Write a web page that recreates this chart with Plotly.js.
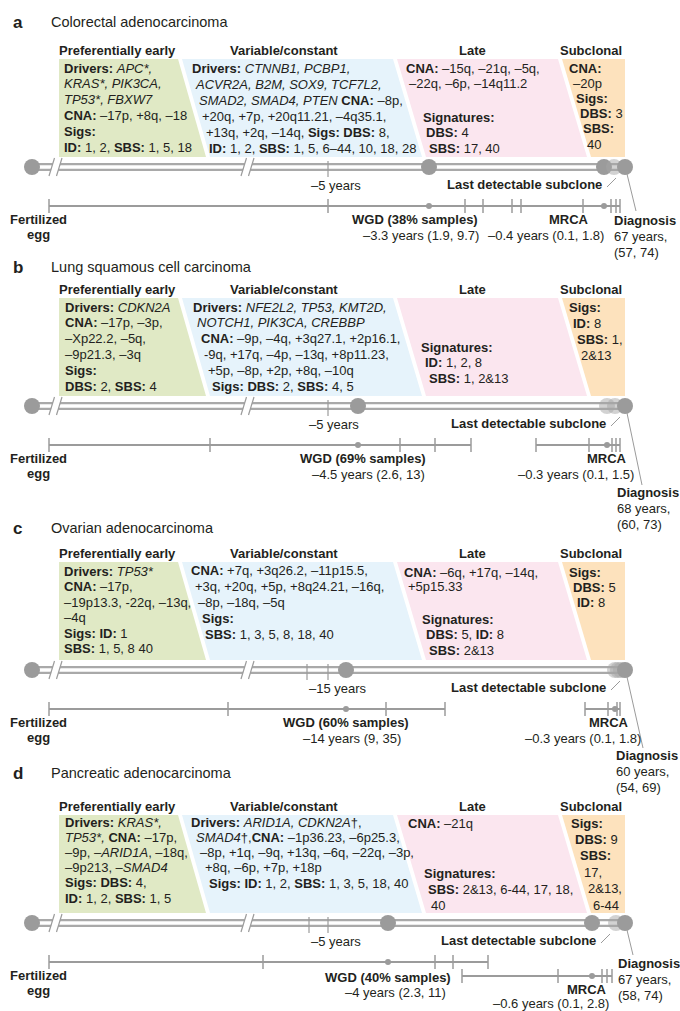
<!DOCTYPE html>
<html><head><meta charset="utf-8">
<script src="https://cdn.plot.ly/plotly-3.0.1.min.js"></script>
<style>html,body{margin:0;padding:0;background:#fff}#chart{width:680px;height:1011px}</style>
</head><body><div id="chart"></div>
<script>
// ---------------- DATA ----------------
const panelLetters = ['a', 'b', 'c', 'd'];
const cancerTypes = ['Colorectal adenocarcinoma', 'Lung squamous cell carcinoma', 'Ovarian adenocarcinoma', 'Pancreatic adenocarcinoma'];
const stageHeaders = ['Preferentially early', 'Variable/constant', 'Late', 'Subclonal'];

const earlyText = [
  ['<b>Drivers:</b> <i>APC*,</i>', '<i>KRAS*, PIK3CA,</i>', '<i>TP53*, FBXW7</i>', '<b>CNA:</b> –17p, +8q, –18', '<b>Sigs:</b>', '<b>ID:</b> 1, 2, <b>SBS:</b> 1, 5, 18'],
  ['<b>Drivers:</b> <i>CDKN2A</i>', '<b>CNA:</b> –17p, –3p,', '–Xp22.2, –5q,', '–9p21.3, –3q', '<b>Sigs:</b>', '<b>DBS:</b> 2, <b>SBS:</b> 4'],
  ['<b>Drivers:</b> <i>TP53*</i>', '<b>CNA:</b> –17p,', '–19p13.3, -22q, –13q,', '–4q', '<b>Sigs: ID:</b> 1', '<b>SBS:</b> 1, 5, 8 40'],
  ['<b>Drivers:</b> <i>KRAS*,</i>', '<i>TP53*,</i> <b>CNA:</b> –17p,', '–9p, –<i>ARID1A</i>, –18q,', '–9p213, –<i>SMAD4</i>', '<b>Sigs: DBS:</b> 4,', '<b>ID:</b> 1, 2, <b>SBS:</b> 1, 5']
];
const variableText = [
  ['<b>Drivers:</b> <i>CTNNB1, PCBP1,</i>', '<i>ACVR2A, B2M, SOX9, TCF7L2,</i>', '<i>SMAD2, SMAD4, PTEN</i> <b>CNA:</b> –8p,', '+20q, +7p, +20q11.21, –4q35.1,', '+13q, +2q, –14q, <b>Sigs: DBS:</b> 8,', '<b>ID:</b> 1, 2, <b>SBS:</b> 1, 5, 6–44, 10, 18, 28'],
  ['<b>Drivers:</b> <i>NFE2L2, TP53, KMT2D,</i>', '<i>NOTCH1, PIK3CA, CREBBP</i>', '<b>CNA:</b> –9p, –4q, +3q27.1, +2p16.1,', '-9q, +17q, –4p, –13q, +8p11.23,', '+5p, –8p, +2p, +8q, –10q', '<b>Sigs: DBS:</b> 2, <b>SBS:</b> 4, 5'],
  ['<b>CNA:</b> +7q, +3q26.2, –11p15.5,', '+3q, +20q, +5p, +8q24.21, –16q,', '–8p, –18q, –5q', '<b>Sigs:</b>', '<b>SBS:</b> 1, 3, 5, 8, 18, 40'],
  ['<b>Drivers:</b> <i>ARID1A, CDKN2A</i>†,', '<i>SMAD4</i>†,<b>CNA:</b> –1p36.23, –6p25.3,', '–8p, +1q, –9q, +13q, –6q, –22q, –3p,', '+8q, –6p, +7p, +18p', '<b>Sigs: ID:</b> 1, 2, <b>SBS:</b> 1, 3, 5, 18, 40']
];
const lateCnaText = [
  ['<b>CNA:</b> –15q, –21q, –5q,', '–22q, –6p, –14q11.2'],
  [],
  ['<b>CNA:</b> –6q, +17q, –14q,', '+5p15.33'],
  ['<b>CNA:</b> –21q']
];
const lateSigText = [
  ['<b>Signatures:</b>', '<b>DBS:</b> 4', '<b>SBS:</b> 17, 40'],
  ['<b>Signatures:</b>', '<b>ID:</b> 1, 2, 8', '<b>SBS:</b> 1, 2&amp;13'],
  ['<b>Signatures:</b>', '<b>DBS:</b> 5, <b>ID:</b> 8', '<b>SBS:</b> 2&amp;13'],
  ['<b>Signatures:</b>', '<b>SBS:</b> 2&amp;13, 6-44, 17, 18,', '40']
];
const subclonalText = [
  ['<b>CNA:</b>', '–20p', '<b>Sigs:</b>', '<b>DBS:</b> 3', '<b>SBS:</b>', '40'],
  ['<b>Sigs:</b>', '<b>ID:</b> 8', '<b>SBS:</b> 1,', '2&amp;13'],
  ['<b>Sigs:</b>', '<b>DBS:</b> 5', '<b>ID:</b> 8'],
  ['<b>Sigs:</b>', '<b>DBS:</b> 9', '<b>SBS:</b>', '17,', '2&amp;13,', '6-44']
];
const wgdPercent = [38, 69, 60, 40];
const wgdYears = [-3.3, -4.5, -14, -4];
const wgdLow = [1.9, 2.6, 9, 2.3];
const wgdHigh = [9.7, 13, 35, 11];
const mrcaYears = [-0.4, -0.3, -0.3, -0.6];
const mrcaLow = [0.1, 0.1, 0.1, 0.1];
const mrcaHigh = [1.8, 1.5, 1.8, 2.8];
const diagnosisAge = [67, 68, 60, 67];
const diagnosisLow = [57, 60, 54, 58];
const diagnosisHigh = [74, 73, 69, 74];
const refYears = [-5, -5, -15, -5];

// ------------- SCHEMATIC TIMELINE POSITIONS (layout) -------------
const wgdBarMarks = [[49, 328, 465, 483, 521], [49, 210, 400, 435, 471], [49, 228, 386, 445], [49, 263, 435, 453, 488]];
const wgdPos = [429, 358, 346, 388];
const mrcaBarMarks = [[512, 583, 611, 616, 620], [536, 589, 612, 616, 620], [585, 608, 617, 620], [462, 558, 602, 607, 612]];
const mrcaPos = [604, 607, 615, 592];
const mrcaDark = [true, false, false, true];
const subclonePos = [[614], [615], [618, 621], [616]];
const refTickPos = [[328], [328], [307, 328], [309, 328]];
const refLabelX = [336, 334, 338, 336];

// ------------- LAYOUT CONSTANTS -------------
const W = 680, H = 1011;
const FONT = 'Liberation Sans, Arial, Helvetica, sans-serif';
const INK = '#231f20';
const GRAY = '#9b9b9b';
const regionTop = [59, 298, 562, 815];
const titleY = [22, 267, 528, 773];
const FILLS = ['#e0e9c5', '#e6f3fb', '#fbe6ef', '#fde2bd'];
const startX = 32, diagX = 625;

const greenCfg = [{x:63,dx:0,y:68,lh:15.8},{x:64,dx:0,y:307,lh:15.8},{x:63,dx:0,y:571,lh:15.5},{x:64,dx:0,y:822,lh:15.2}];
const blueCfg = [{x:191,dx:3.4,y:68,lh:16},{x:192,dx:3.8,y:307,lh:15.8},{x:190,dx:3.5,y:570,lh:16},{x:190,dx:4.5,y:822,lh:15.3}];
const lateCnaCfg = [{x:405,dx:3,y:68,lh:15.5},{x:0,dx:0,y:0,lh:0},{x:403,dx:4,y:572,lh:14.5},{x:407,dx:0,y:823,lh:15}];
const lateSigCfg = [{x:422,dx:3,y:117,lh:15.5},{x:420,dx:4,y:347,lh:15.5},{x:421,dx:3.5,y:619,lh:15.5},{x:423,dx:3.5,y:873,lh:16}];
const subCfg = [{x:568,dx:3.5,y:68,lh:15.2},{x:568,dx:4,y:307,lh:16},{x:568,dx:4,y:572,lh:15},{x:570,dx:4.3,y:823,lh:16.4}];

const wgdLabRight = [479, 427, 410, 452], wgdLabY = [219, 458, 722, 977];
const wgdYrsRight = [480, 426, 402, 447], wgdYrsY = [235, 474, 738, 992];
const mrcaLabRight = [590, 628, 630, 608], mrcaLabY = [219, 458, 722, 989];
const mrcaYrsRight = [605, 635, 642, 610], mrcaYrsY = [235, 474, 738, 1003];
const mrcaRow = [0, 0, 0, 1];
const diagLabX = [613, 616, 615, 617], diagLabY = [220, 492, 755, 963];
const diagLineEnd = [[636, 211], [642, 485], [643, 748], [633, 955]];
const subLabRight = [603, 607, 607, 597];

// ------------- BUILD -------------
const shapes = [], annotations = [], traces = [];
function txt(x, y, text, o) {
  o = o || {};
  annotations.push({
    x: x, y: y, xref: 'x', yref: 'y', text: text, showarrow: false,
    xanchor: o.xanchor || 'left', yanchor: 'middle', borderpad: 0,
    font: {family: FONT, size: o.size || 13, color: INK}
  });
}
function block(lines, c) {
  lines.forEach(function (s, k) { if (s) txt(c.x + c.dx * k, c.y + c.lh * k, s); });
}
function poly(pts, fill) {
  shapes.push({type: 'path', xref: 'x', yref: 'y', layer: 'below', fillcolor: fill, line: {width: 0},
    path: 'M' + pts.map(function (p) { return p[0] + ',' + p[1]; }).join(' L') + ' Z'});
}
function seg(x0, y0, x1, y1, color, width) {
  shapes.push({type: 'line', xref: 'x', yref: 'y', layer: 'below', x0: x0, y0: y0, x1: x1, y1: y1, line: {color: color, width: width}});
}
function fmtNeg(v) { return '–' + Math.abs(v); }

function bar(marks, dot, y) {
  const lo = Math.min.apply(null, marks), hi = Math.max.apply(null, marks);
  traces.push({type: 'scatter', mode: 'lines', x: [lo, hi], y: [y, y], line: {color: GRAY, width: 2}, hoverinfo: 'skip'});
  traces.push({type: 'scatter', mode: 'markers', x: marks, y: marks.map(function () { return y; }),
    marker: {symbol: 'line-ns', size: 10, color: GRAY, line: {color: GRAY, width: 1.5}}, hoverinfo: 'skip'});
  traces.push({type: 'scatter', mode: 'markers', x: [dot], y: [y], marker: {size: 6, color: GRAY}, hoverinfo: 'skip'});
}

for (let i = 0; i < 4; i++) {
  const rt = regionTop[i], rb = rt + 98, tl = rt + 108, by = tl + 39;
  // title
  txt(12, titleY[i], '<b>' + panelLetters[i] + '</b>', {size: 17});
  txt(50, titleY[i], cancerTypes[i], {size: 14.5});
  // headers
  const hx = [117, 284, 472, 591];
  stageHeaders.forEach(function (h, k) { txt(hx[k], rt - 9, '<b>' + h + '</b>', {xanchor: 'center'}); });
  // regions
  poly([[59, rt], [178, rt], [206, rb], [59, rb]], FILLS[0]);
  poly([[182, rt], [393, rt], [422, rb], [210, rb]], FILLS[1]);
  poly([[397, rt], [558, rt], [587, rb], [426, rb]], FILLS[2]);
  poly([[562, rt], [625, rt], [625, rb], [591, rb]], FILLS[3]);
  // texts
  block(earlyText[i], greenCfg[i]);
  block(variableText[i], blueCfg[i]);
  block(lateCnaText[i], lateCnaCfg[i]);
  block(lateSigText[i], lateSigCfg[i]);
  block(subclonalText[i], subCfg[i]);
  // timeline pipe
  seg(startX, tl, diagX, tl, '#a9a9a9', 8);
  seg(startX, tl, diagX, tl, '#ffffff', 3.5);
  // breaks
  [55.5, 247.5].forEach(function (bx) {
    shapes.push({type: 'path', xref: 'x', yref: 'y', layer: 'below', fillcolor: '#ffffff', line: {width: 0},
      path: 'M' + (bx - 5.5) + ',' + (tl + 6) + ' L' + (bx - 2) + ',' + (tl - 6) + ' L' + (bx + 5.5) + ',' + (tl - 6) + ' L' + (bx + 2) + ',' + (tl + 6) + ' Z'});
    seg(bx - 6.5, tl + 9, bx - 1, tl - 9, GRAY, 1.2);
    seg(bx + 1, tl + 9, bx + 6.5, tl - 9, GRAY, 1.2);
  });
  // reference ticks
  refTickPos[i].forEach(function (rx) { seg(rx, tl - 6, rx, tl + 10, GRAY, 1.2); });
  txt(refLabelX[i], tl + 18, fmtNeg(refYears[i]) + ' years', {xanchor: 'center'});
  // circles
  const dark = [startX, wgdPos[i]];
  const light = subclonePos[i].slice();
  if (mrcaDark[i]) dark.push(mrcaPos[i]); else light.unshift(mrcaPos[i]);
  traces.push({type: 'scatter', mode: 'markers', x: dark, y: dark.map(function () { return tl; }),
    marker: {size: 16, color: GRAY}, hoverinfo: 'skip'});
  traces.push({type: 'scatter', mode: 'markers', x: light, y: light.map(function () { return tl; }),
    marker: {size: 16, color: 'rgba(165,165,165,0.5)'}, hoverinfo: 'skip'});
  traces.push({type: 'scatter', mode: 'markers', x: [diagX], y: [tl], marker: {size: 16, color: GRAY}, hoverinfo: 'skip'});
  // last detectable subclone
  const sy = tl + 17, sr = subLabRight[i];
  txt(sr, sy, '<b>Last detectable subclone</b>', {xanchor: 'right'});
  seg(sr + 4, sy + 3, sr + 13, sy - 6, GRAY, 1);
  // diagnosis
  seg(diagX + 2, tl + 7, diagLineEnd[i][0], diagLineEnd[i][1], GRAY, 1);
  txt(diagLabX[i], diagLabY[i], '<b>Diagnosis</b>');
  txt(diagLabX[i], diagLabY[i] + 16, diagnosisAge[i] + ' years,');
  txt(diagLabX[i], diagLabY[i] + 32, '(' + diagnosisLow[i] + ', ' + diagnosisHigh[i] + ')');
  // bars
  bar(wgdBarMarks[i], wgdPos[i], by);
  bar(mrcaBarMarks[i], mrcaPos[i], by + 14 * mrcaRow[i]);
  // egg
  txt(38, by + 13, '<b>Fertilized</b>', {xanchor: 'center'});
  txt(38, by + 28, '<b>egg</b>', {xanchor: 'center'});
  // WGD labels
  txt(wgdLabRight[i], wgdLabY[i], '<b>WGD (' + wgdPercent[i] + '% samples)</b>', {xanchor: 'right'});
  txt(wgdYrsRight[i], wgdYrsY[i], fmtNeg(wgdYears[i]) + ' years (' + wgdLow[i] + ', ' + wgdHigh[i] + ')', {xanchor: 'right'});
  // MRCA labels
  txt(mrcaLabRight[i], mrcaLabY[i], '<b>MRCA</b>', {xanchor: 'right'});
  txt(mrcaYrsRight[i], mrcaYrsY[i], fmtNeg(mrcaYears[i]) + ' years (' + mrcaLow[i] + ', ' + mrcaHigh[i] + ')', {xanchor: 'right'});
}

const layout = {
  width: W, height: H, margin: {l: 0, r: 0, t: 0, b: 0},
  paper_bgcolor: '#ffffff', plot_bgcolor: '#ffffff', showlegend: false,
  xaxis: {range: [0, W], visible: false, fixedrange: true},
  yaxis: {range: [H, 0], visible: false, fixedrange: true},
  shapes: shapes, annotations: annotations
};
Plotly.newPlot('chart', traces, layout, {staticPlot: true, displayModeBar: false});
</script></body></html>
